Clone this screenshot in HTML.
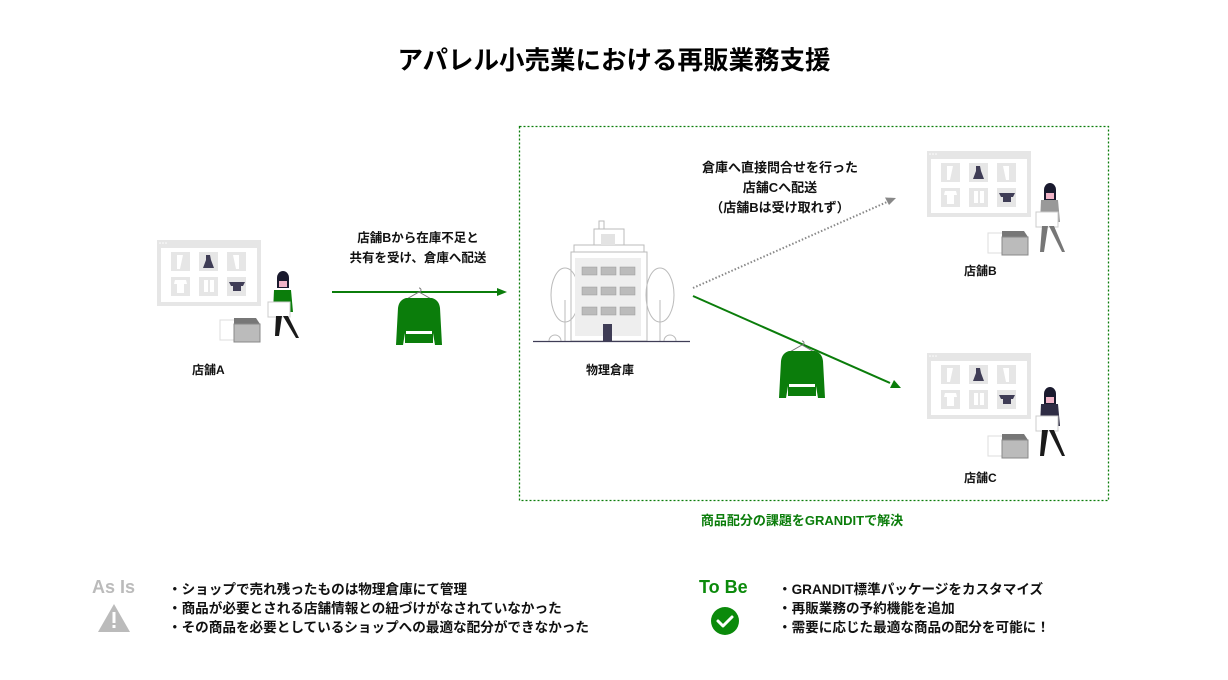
<!DOCTYPE html>
<html><head><meta charset="utf-8"><style>
body{margin:0;width:1228px;height:680px;background:#fff;font-family:"Liberation Sans","Noto Sans CJK JP",sans-serif;overflow:hidden;position:relative;color:#111}
.t{position:absolute;white-space:nowrap;font-weight:bold}
</style></head><body>
<svg width="1228" height="680" style="position:absolute;left:0;top:0">
<defs>
<g id="screen">
<rect x="0" y="0" width="104" height="66" fill="#e6e6e6"/>
<rect x="4" y="8" width="96" height="54" fill="#fff"/>
<circle cx="3" cy="3" r="0.8" fill="#fff"/><circle cx="6" cy="3" r="0.8" fill="#fff"/><circle cx="9" cy="3" r="0.8" fill="#fff"/>
<g fill="#e6e6e6">
<rect x="14" y="12" width="19" height="19"/><rect x="42" y="12" width="19" height="19"/><rect x="70" y="12" width="19" height="19"/>
<rect x="14" y="37" width="19" height="19"/><rect x="42" y="37" width="19" height="19"/><rect x="70" y="37" width="19" height="19"/>
</g>
<g fill="#fff"><path d="M20 15h6l-3 14h-3z"/><path d="M76 15h6v14h-3z"/><path d="M18 40h11l1 4h-3v9h-7v-9h-3z"/><path d="M47 40h4v12h-4z M53 40h4v12h-4z"/></g>
<path d="M49 15h4l1 5l3 8h-11l3-8z" fill="#3f3d56"/>
<path d="M72 42h16l-2 4h-2v5h-8v-5h-2z" fill="#3f3d56"/>
</g>
<g id="boxes">
<rect x="0" y="4" width="20" height="20" fill="#fff" stroke="#ddd"/>
<path d="M14 8h26l-4-6h-22z" fill="#777"/>
<rect x="14" y="8" width="26" height="18" fill="#bbb" stroke="#888"/>
</g>
<g id="shirt">
<path d="M23 2a2 2 0 1 1 0 4l-14 8h28l-14-8" fill="none" stroke="#777" stroke-width="1"/>
<path d="M10 12h26q7 2 8 10l2 37h-7l-2-12v10h-28v-10l-2 12h-7l2-37q1-8 8-10z" fill="#0b7d0b"/>
<rect x="10" y="45" width="26" height="3" fill="#fff"/>
</g>
</defs>
<text x="614" y="69" text-anchor="middle" font-size="25.5" font-weight="bold" font-family="Liberation Sans,Noto Sans CJK JP,sans-serif">アパレル小売業における再販業務支援</text>
<rect x="519.5" y="126.5" width="589" height="374" fill="none" stroke="#0b7d0b" stroke-width="1.3" stroke-dasharray="2,2"/>
<use href="#screen" x="157" y="240"/>
<use href="#boxes" x="220" y="316"/>
<g>
<path d="M277 278a6 7 0 0 1 12 0v10h-12z" fill="#1a1a2e"/><rect x="279" y="281" width="8" height="6" fill="#f0b4c8"/>
<path d="M274 290h17l2 22h-20z" fill="#0b7d0b"/>
<rect x="268" y="302" width="22" height="15" fill="#fff" stroke="#ccc"/>
<path d="M276 316h6l-3 20h-4z M283 316h5l11 22h-3z" fill="#1a1a1a"/>
</g>
<use href="#screen" x="927" y="151"/>
<use href="#boxes" x="988" y="229"/>
<g>
<path d="M1044 190a6 7 0 0 1 12 0v10h-12z" fill="#1a1a2e"/><rect x="1046" y="193" width="8" height="6" fill="#f0b4c8"/>
<path d="M1041 200h17l2 22h-20z" fill="#999"/>
<rect x="1036" y="212" width="22" height="15" fill="#fff" stroke="#ccc"/>
<path d="M1042 226h6l-4 26h-4z M1049 226h5l11 26h-3z" fill="#777"/>
</g>
<use href="#screen" x="927" y="353"/>
<use href="#boxes" x="988" y="432"/>
<g>
<path d="M1044 394a6 7 0 0 1 12 0v10h-12z" fill="#1a1a2e"/><rect x="1046" y="397" width="8" height="6" fill="#f0b4c8"/>
<path d="M1041 404h17l2 22h-20z" fill="#2e2c44"/>
<rect x="1036" y="416" width="22" height="15" fill="#fff" stroke="#ccc"/>
<path d="M1042 430h6l-4 26h-4z M1049 430h5l11 26h-3z" fill="#1a1a1a"/>
</g>
<g stroke="#bbb" fill="none" stroke-width="1">
<rect x="599" y="221" width="5" height="8"/>
<rect x="594" y="229" width="30" height="16"/>
<rect x="574" y="245" width="70" height="7"/>
<rect x="571" y="252" width="76" height="89" fill="#fff"/>
<ellipse cx="565" cy="295" rx="14" ry="27"/><line x1="565" y1="300" x2="565" y2="341"/>
<ellipse cx="660" cy="295" rx="14" ry="27"/><line x1="660" y1="300" x2="660" y2="341"/>
<path d="M549 341a6 6 0 0 1 12 0 M664 341a6 6 0 0 1 12 0"/>
</g>
<rect x="575" y="258" width="66" height="78" fill="#eee"/>
<rect x="601" y="234" width="14" height="11" fill="#e3e3e3"/>
<g fill="#bbb" stroke="#999" stroke-width="0.5">
<rect x="582" y="267" width="15" height="8"/><rect x="601" y="267" width="15" height="8"/><rect x="620" y="267" width="15" height="8"/>
<rect x="582" y="287" width="15" height="8"/><rect x="601" y="287" width="15" height="8"/><rect x="620" y="287" width="15" height="8"/>
<rect x="582" y="307" width="15" height="8"/><rect x="601" y="307" width="15" height="8"/><rect x="620" y="307" width="15" height="8"/>
</g>
<rect x="603" y="324" width="9" height="17" fill="#3f3d56"/>
<line x1="533" y1="341.5" x2="690" y2="341.5" stroke="#3f3d56" stroke-width="1.3"/>
<line x1="332" y1="292" x2="497" y2="292" stroke="#0b7d0b" stroke-width="2"/>
<path d="M507 292l-10-4v8z" fill="#0b7d0b"/>
<line x1="693" y1="288" x2="887" y2="202" stroke="#888" stroke-width="2" stroke-dasharray="1.5,2"/>
<path d="M896 198l-11-0.5l4 7.5z" fill="#888"/>
<line x1="693" y1="296" x2="890" y2="383" stroke="#0b7d0b" stroke-width="2"/>
<path d="M901 388l-7-8l-4 8z" fill="#0b7d0b"/>
<use href="#shirt" x="396" y="286"/>
<use href="#shirt" x="779" y="339"/>
<path d="M114 604l16 28h-32z" fill="#bbb"/>
<rect x="112.5" y="612" width="3" height="11" fill="#fff"/><rect x="112.5" y="625" width="3" height="3" fill="#fff"/>
<circle cx="725" cy="621" r="14" fill="#0b8a0b"/>
<path d="M718 621l5 5l9-9" fill="none" stroke="#fff" stroke-width="3" stroke-linecap="round" stroke-linejoin="round"/>
</svg>
<div class="t" style="left:348px;top:228px;font-size:12.5px;line-height:20px;text-align:center;width:140px">店舗Bから在庫不足と<br>共有を受け、倉庫へ配送</div>
<div class="t" style="left:192px;top:361px;font-size:12px">店舗A</div>
<div class="t" style="left:586px;top:361px;font-size:12px">物理倉庫</div>
<div class="t" style="left:964px;top:262px;font-size:12px">店舗B</div>
<div class="t" style="left:964px;top:469px;font-size:12px">店舗C</div>
<div class="t" style="left:680px;top:158px;width:200px;text-align:center;font-size:13px;line-height:20px">倉庫へ直接問合せを行った<br>店舗Cへ配送<br>（店舗Bは受け取れず）</div>
<div class="t" style="left:652px;top:510px;width:300px;text-align:center;font-size:13px;color:#0b7d0b">商品配分の課題をGRANDITで解決</div>
<div class="t" style="left:92px;top:577px;font-size:18px;color:#bbb">As Is</div>
<div class="t" style="left:699px;top:577px;font-size:18px;color:#0b8a0b">To Be</div>
<div class="t" style="left:168px;top:580px;font-size:13.6px;line-height:19px">・ショップで売れ残ったものは物理倉庫にて管理<br>・商品が必要とされる店舗情報との紐づけがなされていなかった<br>・その商品を必要としているショップへの最適な配分ができなかった</div>
<div class="t" style="left:778px;top:580px;font-size:13.6px;line-height:19px">・GRANDIT標準パッケージをカスタマイズ<br>・再販業務の予約機能を追加<br>・需要に応じた最適な商品の配分を可能に！</div>
</body></html>
